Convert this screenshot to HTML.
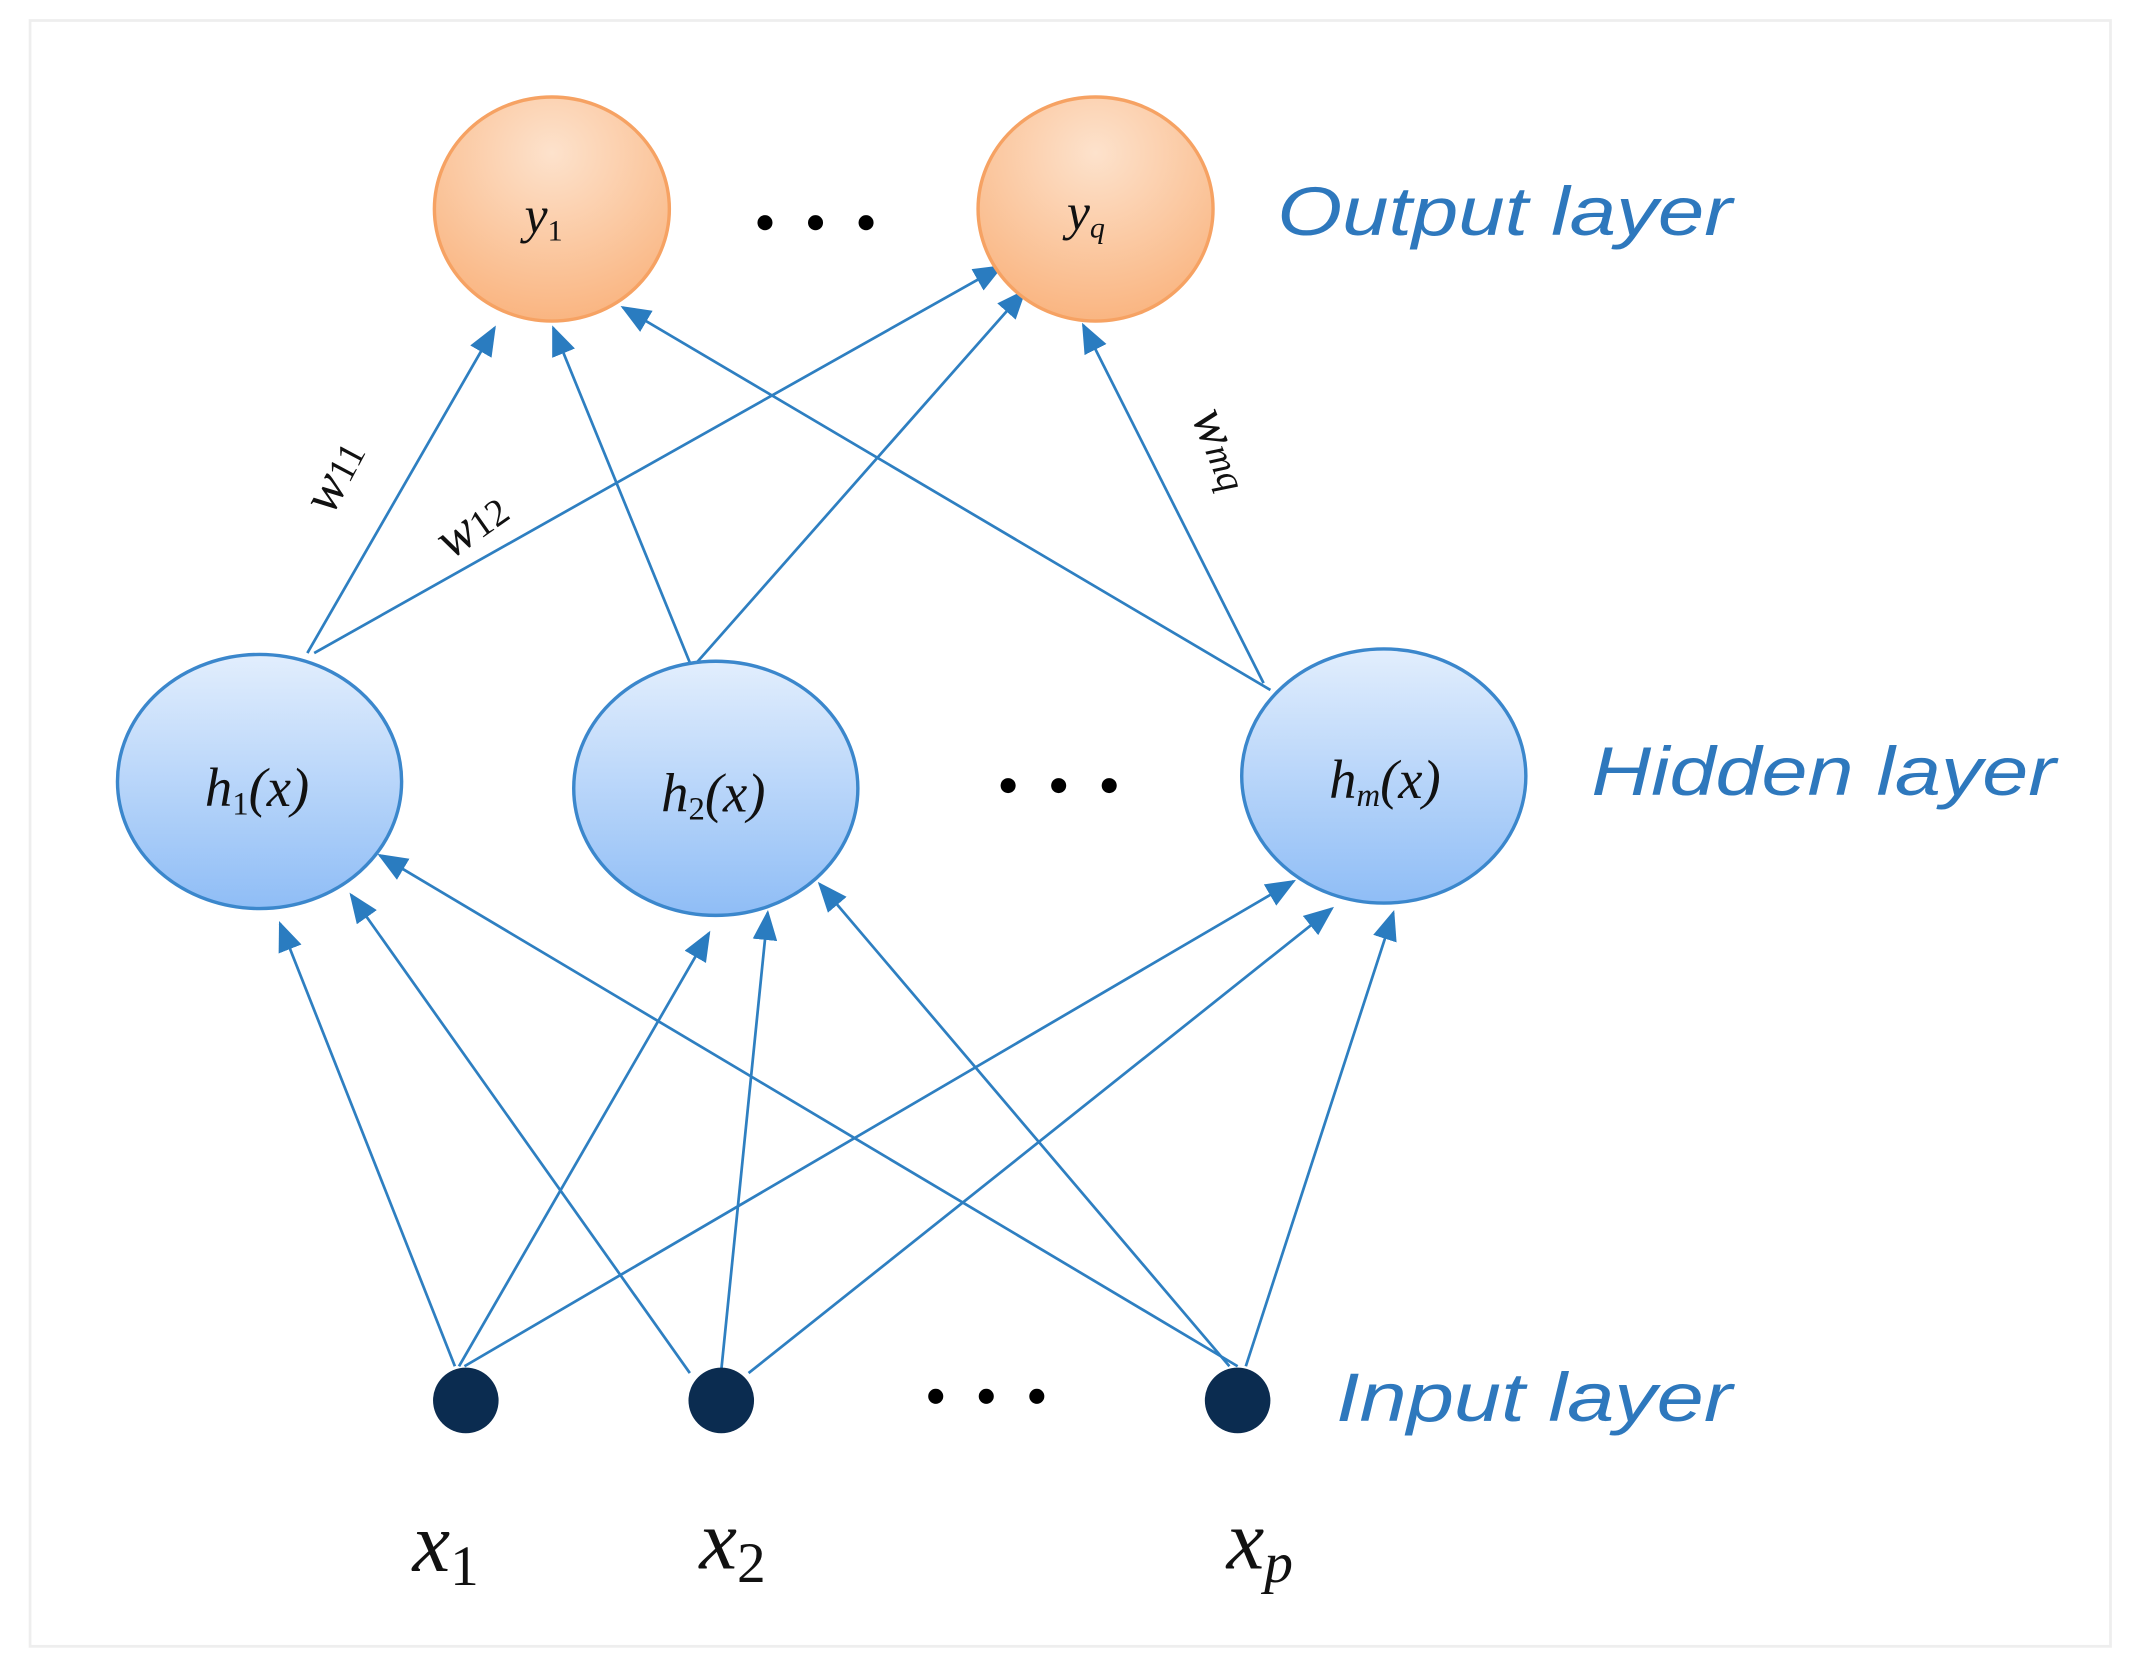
<!DOCTYPE html>
<html><head><meta charset="utf-8"><style>html,body{margin:0;padding:0;background:#fff}svg{display:block}</style></head>
<body>
<svg width="2131" height="1660" viewBox="0 0 1560 1215" preserveAspectRatio="none" xmlns="http://www.w3.org/2000/svg">
<defs>
<radialGradient id="og" cx="50%" cy="25%" r="80%"><stop offset="0" stop-color="#fde2cc"/><stop offset="1" stop-color="#f9b27c"/></radialGradient>
<linearGradient id="bg" x1="0" y1="0" x2="0" y2="1"><stop offset="0" stop-color="#e2eefd"/><stop offset="1" stop-color="#8fbdf6"/></linearGradient>
<marker id="a" viewBox="0 0 22 18" refX="20" refY="9" markerWidth="22" markerHeight="18" orient="auto" markerUnits="userSpaceOnUse"><path d="M0,0 L22,9 L0,18 z" fill="#2a7cc0"/></marker>
</defs>
<rect x="22" y="15" width="1523" height="1190" fill="#fff" stroke="#eee" stroke-width="2"/>
<g stroke="#2e7fc1" stroke-width="2" fill="none" marker-end="url(#a)">
<line x1="333" y1="1000" x2="205" y2="676"/>
<line x1="336" y1="1000" x2="519" y2="683"/>
<line x1="340" y1="1000" x2="947" y2="645"/>
<line x1="505" y1="1005" x2="257" y2="655"/>
<line x1="528" y1="1003" x2="562" y2="668"/>
<line x1="548" y1="1005" x2="975" y2="665"/>
<line x1="906" y1="1000" x2="278" y2="626"/>
<line x1="900" y1="1000" x2="600" y2="647"/>
<line x1="912" y1="1000" x2="1020" y2="668"/>
<line x1="225" y1="478" x2="362" y2="240"/>
<line x1="230" y1="478" x2="733" y2="195"/>
<line x1="505" y1="485" x2="405" y2="240"/>
<line x1="510" y1="485" x2="750" y2="213"/>
<line x1="930" y1="505" x2="456" y2="225"/>
<line x1="925" y1="500" x2="793" y2="238"/>
</g>
<ellipse cx="404" cy="153" rx="86" ry="82" fill="url(#og)" stroke="#f6a263" stroke-width="2.5"/>
<ellipse cx="802" cy="153" rx="86" ry="82" fill="url(#og)" stroke="#f6a263" stroke-width="2.5"/>
<ellipse cx="190" cy="572" rx="104" ry="93" fill="url(#bg)" stroke="#3b87cc" stroke-width="2.5"/>
<ellipse cx="524" cy="577" rx="104" ry="93" fill="url(#bg)" stroke="#3b87cc" stroke-width="2.5"/>
<ellipse cx="1013" cy="568" rx="104" ry="93" fill="url(#bg)" stroke="#3b87cc" stroke-width="2.5"/>
<circle cx="341" cy="1025" r="24" fill="#0b2c50"/>
<circle cx="528" cy="1025" r="24" fill="#0b2c50"/>
<circle cx="906" cy="1025" r="24" fill="#0b2c50"/>
<g fill="#000">
<circle cx="560" cy="163" r="5.5"/><circle cx="597" cy="163" r="5.5"/><circle cx="634" cy="163" r="5.5"/>
<circle cx="738" cy="575" r="5.5"/><circle cx="775" cy="575" r="5.5"/><circle cx="812" cy="575" r="5.5"/>
<circle cx="685" cy="1022" r="5.5"/><circle cx="722" cy="1022" r="5.5"/><circle cx="759" cy="1022" r="5.5"/>
</g>
<g font-family="Liberation Serif, serif" font-style="italic" fill="#111">
<text x="384" y="170" font-size="38">y<tspan font-size="22" font-style="normal" dy="6">1</tspan></text>
<text x="781" y="168" font-size="38">y<tspan font-size="22" dy="6">q</tspan></text>
<text x="150" y="590" font-size="40">h<tspan font-size="24" font-style="normal" dy="6">1</tspan><tspan dy="-6">(x)</tspan></text>
<text x="484" y="594" font-size="40">h<tspan font-size="24" font-style="normal" dy="6">2</tspan><tspan dy="-6">(x)</tspan></text>
<text x="973" y="584" font-size="40">h<tspan font-size="24" dy="6">m</tspan><tspan dy="-6">(x)</tspan></text>
<text x="302" y="1150" font-size="62">x<tspan font-size="42" font-style="normal" dy="10">1</tspan></text>
<text x="512" y="1148" font-size="62">x<tspan font-size="42" font-style="normal" dy="10">2</tspan></text>
<text x="898" y="1148" font-size="62">x<tspan font-size="42" dy="10">p</tspan></text>
<text font-size="40" transform="translate(243,378) rotate(-62)">w<tspan font-size="28" font-style="normal">11</tspan></text>
<text font-size="40" transform="translate(330,410) rotate(-35)">w<tspan font-size="28" font-style="normal">12</tspan></text>
<text font-size="40" transform="translate(872,305) rotate(68)">w<tspan font-size="28">mq</tspan></text>
</g>
<g font-family="Liberation Sans, sans-serif" font-style="italic" fill="#2e78bd" font-size="50">
<text x="935" y="172" textLength="333" lengthAdjust="spacingAndGlyphs">Output layer</text>
<text x="1165" y="582" textLength="340" lengthAdjust="spacingAndGlyphs">Hidden layer</text>
<text x="978" y="1040" textLength="290" lengthAdjust="spacingAndGlyphs">Input layer</text>
</g>
</svg>
</body></html>
